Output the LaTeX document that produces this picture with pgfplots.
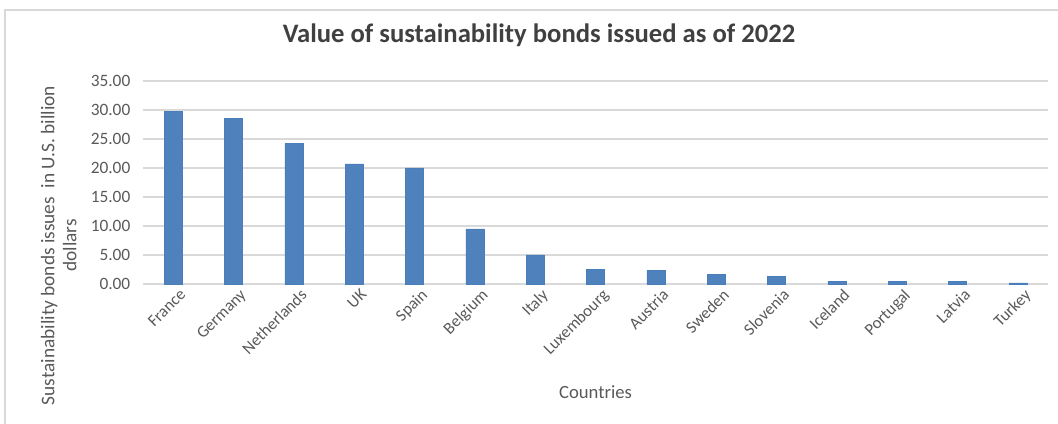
\documentclass[border=0pt]{standalone}
\usepackage{pgfplots}
\pgfplotsset{compat=1.18}
\usepackage{fontspec}
\setmainfont{Carlito}
\definecolor{barblue}{HTML}{4F81BD}
\definecolor{baredge}{HTML}{4A7EBB}
\definecolor{gridgray}{HTML}{D9D9D9}
\definecolor{txtgray}{HTML}{595959}
\definecolor{ttlgray}{HTML}{404040}
\begin{document}
\begin{tikzpicture}[x=1pt,y=1pt]
\useasboundingbox (-107.25,-105) rectangle (686.25,213);
\draw[gridgray,line width=0.8pt] (-103.5,-105) -- (-103.5,205.5) -- (686.25,205.5);
\begin{axis}[
  scale only axis,
  width=678.75pt, height=152.25pt,
  at={(0,0)}, anchor=south west,
  xmin=-0.5, xmax=14.5,
  ymin=0, ymax=35,
  ytick={0,5,...,35},
  yticklabel style={/pgf/number format/fixed,/pgf/number format/fixed zerofill,/pgf/number format/precision=2,/pgf/number format/assume math mode=true,font=\fontsize{13}{15}\selectfont,text=txtgray,xshift=-6pt},
  xtick=data,
  xticklabels={France,Germany,Netherlands,UK,Spain,Belgium,Italy,Luxembourg,Austria,Sweden,Slovenia,Iceland,Portugal,Latvia,Turkey},
  xticklabel style={rotate=45,anchor=north east,font=\fontsize{12.5}{14}\selectfont,text=txtgray,inner sep=1pt,yshift=-4pt,xshift=2pt},
  ymajorgrids,
  grid style={gridgray,line width=0.8pt},
  axis x line*=bottom,
  axis y line*=left,
  y axis line style={draw=none},
  x axis line style={gridgray,line width=0.8pt,-},
  major tick length=0pt,
  tick style={draw=none},
  ybar, bar width=13.5pt,
  xlabel={Countries},
  xlabel style={at={(axis description cs:0.5,-0.532)},anchor=center,font=\fontsize{14}{16}\selectfont,text=txtgray},
  ylabel={Sustainability bonds issues \ in U.S. billion\\dollars},
  ylabel style={at={(axis description cs:-0.093,0.19)},anchor=center,align=center,rotate=0,font=\fontsize{14.5}{16.5}\selectfont,text=txtgray},
  title={Value of sustainability bonds issued as of 2022},
  title style={at={(axis description cs:0.4376,1.187)},anchor=center,font=\fontsize{20}{24}\selectfont\bfseries,text=ttlgray},
  clip=false,
]
\addplot[fill=barblue,draw=baredge,line width=0.4pt] coordinates {
(0,29.7) (1,28.6) (2,24.2) (3,20.7) (4,20.0) (5,9.5) (6,5.0) (7,2.5) (8,2.3) (9,1.6) (10,1.3) (11,0.5) (12,0.5) (13,0.5) (14,0.2)};
\end{axis}
\end{tikzpicture}
\end{document}
